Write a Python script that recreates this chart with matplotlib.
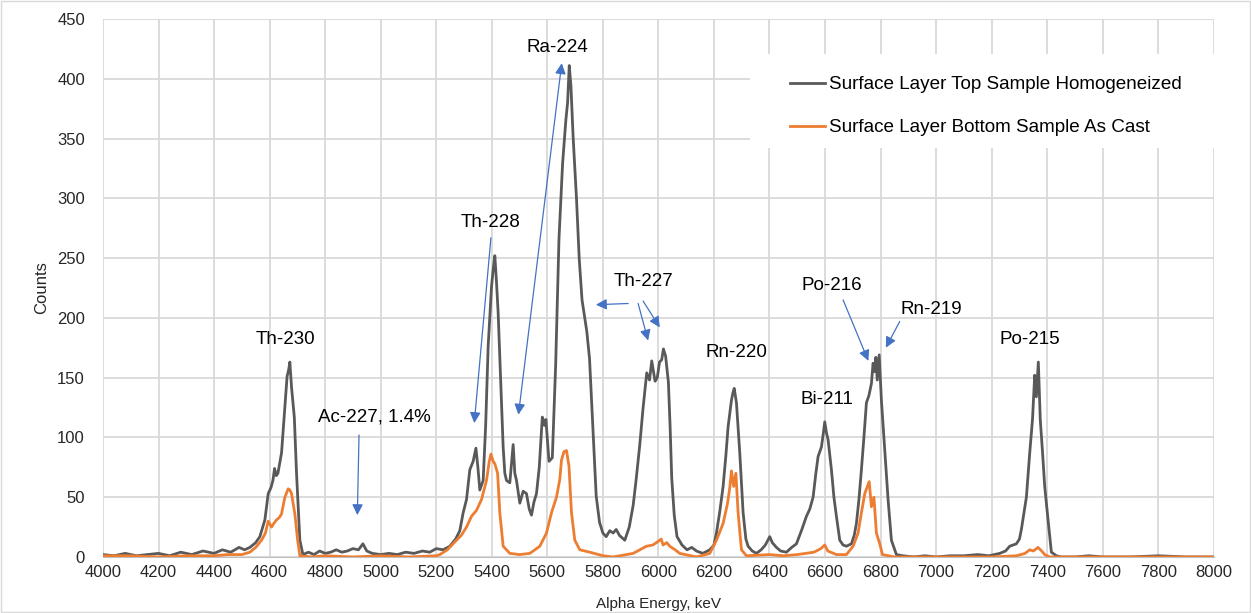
import matplotlib
matplotlib.use('Agg')
import matplotlib.pyplot as plt
from matplotlib.patches import Rectangle
import numpy as np

plt.rcParams['font.family'] = ['Liberation Sans', 'DejaVu Sans']

######################################################################
############################ Spectrum data ###########################
######################################################################

# Surface Layer Top Sample Homogeneized (keV, counts)
top_energy = [4000, 4040, 4080, 4120, 4160, 4200, 4240, 4280, 4320, 4360, 4400, 4430, 4460, 4490,
              4510, 4529, 4550, 4565, 4583, 4595, 4605, 4612, 4618, 4624, 4630, 4643, 4655, 4663,
              4669, 4673, 4679, 4689, 4697, 4709, 4720, 4740, 4760, 4780, 4800, 4820, 4840, 4860,
              4880, 4900, 4920, 4936, 4950, 4970, 5000, 5030, 5060, 5090, 5120, 5150, 5177, 5200,
              5225, 5249, 5270, 5285, 5297, 5309, 5321, 5333, 5343, 5350, 5357, 5369, 5378, 5387,
              5399, 5405, 5411, 5417, 5423, 5431, 5441, 5447, 5453, 5465, 5477, 5483, 5489, 5501,
              5513, 5525, 5535, 5543, 5552, 5561, 5571, 5582, 5590, 5595, 5606, 5618, 5630, 5642,
              5655, 5667, 5673, 5679, 5685, 5693, 5705, 5715, 5725, 5733, 5742, 5752, 5764, 5776,
              5788, 5800, 5812, 5825, 5837, 5848, 5860, 5879, 5895, 5909, 5920, 5933, 5945, 5958,
              5968, 5976, 5988, 5996, 6004, 6012, 6018, 6026, 6036, 6042, 6048, 6057, 6067, 6085,
              6103, 6120, 6137, 6160, 6185, 6200, 6209, 6221, 6233, 6243, 6251, 6263, 6268, 6273,
              6281, 6293, 6305, 6315, 6323, 6338, 6353, 6370, 6385, 6401, 6410, 6425, 6440, 6461,
              6480, 6497, 6515, 6533, 6545, 6557, 6567, 6575, 6587, 6593, 6599, 6605, 6611, 6623,
              6632, 6641, 6653, 6665, 6677, 6695, 6705, 6713, 6722, 6731, 6740, 6749, 6758, 6767,
              6773, 6779, 6783, 6788, 6795, 6803, 6815, 6827, 6839, 6857, 6880, 6920, 6960, 7000,
              7050, 7100, 7150, 7190, 7229, 7250, 7265, 7289, 7300, 7307, 7325, 7337, 7347, 7355,
              7361, 7368, 7375, 7383, 7391, 7403, 7415, 7433, 7450, 7500, 7550, 7600, 7700, 7800,
              7900, 8000]
top_counts = [2, 1, 3, 1, 2, 3, 1, 4, 2, 5, 3, 6, 4, 8,
              6, 8, 12, 17, 31, 53, 58, 64, 74, 68, 70, 87, 126, 151,
              157, 163, 142, 117, 70, 14, 2, 4, 2, 5, 3, 4, 6, 4,
              5, 7, 6, 11, 5, 3, 2, 3, 2, 4, 3, 5, 4, 7,
              6, 9, 15, 22, 37, 48, 73, 80, 91, 75, 56, 64, 110, 176,
              226, 240, 252, 230, 204, 154, 92, 70, 64, 62, 94, 70, 64, 45,
              55, 53, 40, 35, 46, 53, 75, 117, 110, 115, 80, 83, 160, 266,
              329, 366, 380, 411, 394, 351, 300, 249, 215, 203, 189, 166, 109, 51,
              29, 20, 17, 22, 20, 23, 18, 14, 25, 43, 65, 94, 125, 154,
              148, 164, 147, 150, 163, 165, 174, 168, 146, 110, 66, 35, 17, 10,
              6, 8, 5, 3, 6, 10, 20, 38, 59, 85, 109, 131, 137, 141,
              129, 87, 37, 15, 9, 5, 3, 6, 10, 17, 12, 8, 5, 4,
              8, 11, 22, 34, 40, 50, 70, 84, 92, 102, 113, 104, 98, 73,
              50, 34, 14, 10, 9, 11, 18, 28, 48, 73, 100, 129, 135, 145,
              162, 155, 167, 148, 169, 131, 89, 48, 14, 2, 1, 0, 1, 0,
              1, 1, 2, 1, 3, 5, 9, 11, 15, 23, 50, 87, 115, 152,
              134, 163, 115, 88, 59, 31, 4, 1, 0, 0, 1, 0, 0, 1,
              0, 0]

# Surface Layer Bottom Sample As Cast (keV, counts)
bottom_energy = [4000, 4100, 4200, 4300, 4400, 4450, 4500, 4529, 4550, 4571, 4585, 4595, 4607, 4615,
                 4625, 4635, 4643, 4655, 4667, 4673, 4679, 4691, 4701, 4709, 4750, 4800, 4900, 5000,
                 5100, 5200, 5213, 5240, 5273, 5290, 5309, 5327, 5345, 5363, 5381, 5391, 5397, 5405,
                 5411, 5421, 5429, 5441, 5465, 5500, 5537, 5573, 5597, 5615, 5633, 5645, 5651, 5660,
                 5669, 5678, 5687, 5699, 5717, 5753, 5801, 5837, 5909, 5957, 5980, 5999, 6010, 6017,
                 6030, 6041, 6060, 6077, 6137, 6185, 6209, 6233, 6249, 6257, 6263, 6271, 6279, 6287,
                 6299, 6317, 6400, 6450, 6500, 6560, 6585, 6599, 6610, 6641, 6677, 6701, 6719, 6731,
                 6743, 6759, 6767, 6776, 6785, 6797, 6807, 6850, 7000, 7200, 7289, 7320, 7337, 7350,
                 7367, 7380, 7391, 7409, 7600, 8000]
bottom_counts = [1, 1, 0, 1, 1, 2, 2, 4, 8, 14, 20, 30, 25, 28,
                 31, 33, 36, 50, 57, 56, 53, 36, 14, 1, 0, 1, 0, 1,
                 0, 1, 2, 6, 14, 18, 25, 34, 39, 48, 64, 80, 86, 80,
                 78, 70, 37, 9, 3, 2, 3, 9, 20, 37, 50, 65, 81, 88,
                 89, 76, 37, 14, 6, 4, 1, 0, 3, 9, 10, 13, 15, 10,
                 12, 9, 6, 3, 0, 3, 14, 28, 45, 58, 72, 59, 70, 37,
                 6, 1, 2, 1, 2, 4, 7, 10, 5, 2, 2, 9, 20, 37,
                 53, 63, 42, 50, 20, 11, 2, 0, 0, 0, 1, 3, 6, 5,
                 8, 5, 2, 0, 0, 0]

# peak labels: text, label centre (keV, counts)
labels = ['Th-230', 'Ac-227, 1.4%', 'Th-228', 'Ra-224', 'Th-227',
          'Rn-220', 'Bi-211', 'Po-216', 'Rn-219', 'Po-215']
label_xy = [(4657, 182), (4976, 117), (5397, 280), (5638, 426), (5945, 230),
            (6280, 171), (6607, 132), (6624, 227), (6981, 207), (7336, 182)]

# arrows: (tail keV, tail counts, head keV, head counts)
arrows = [(4922, 102, 4916, 35),
          (5397, 267, 5337, 112),
          (5891, 212, 5775, 211),
          (5927, 212, 5963, 181),
          (5945, 214, 6005, 192),
          (6665, 215, 6756, 164),
          (6869, 197, 6819, 175)]
ra_arrow = (5496, 119, 5652, 413)

######################################################################
################################ Plot ################################
######################################################################

fig = plt.figure(figsize=(12.51, 6.13), dpi=100)
ax = fig.add_axes([0.0823, 0.0914, 0.888, 0.8777])

ax.plot(top_energy, top_counts, color='#595959', linewidth=2.0,
        label='Surface Layer Top Sample Homogeneized', zorder=3)
ax.plot(bottom_energy, bottom_counts, color='#ED7D31', linewidth=2.0,
        label='Surface Layer Bottom Sample As Cast', zorder=4)

ax.set_xlim(4000, 8000)
ax.set_ylim(0, 450)
ax.set_xticks(np.arange(4000, 8001, 200))
ax.set_yticks(np.arange(0, 451, 50))
ax.set_axisbelow(True)
ax.grid(True, color='#d9d9d9', linewidth=1.3)

for s in ['top', 'right', 'left']:
    ax.spines[s].set_visible(False)
ax.spines['bottom'].set_color('#bfbfbf')
ax.tick_params(axis='both', length=0, labelsize=12, colors='#262626')
ax.tick_params(axis='y', pad=13)
ax.tick_params(axis='x', pad=6)

ax.set_xlabel('Alpha Energy, keV', fontsize=11, labelpad=12, color='#262626')
ax.set_ylabel('Counts', fontsize=12, labelpad=6, color='#262626')

# annotations
for txt, (ex, cy) in zip(labels, label_xy):
    ax.text(ex, cy, txt, ha='center', va='center', fontsize=13.5, color='black', zorder=5)

arrow_style = dict(arrowstyle='-|>', color='#4472C4', lw=0.9, mutation_scale=16,
                   shrinkA=0, shrinkB=0)
for x0, y0, x1, y1 in arrows:
    ax.annotate('', xy=(x1, y1), xytext=(x0, y0), arrowprops=arrow_style, zorder=5)

ax.annotate('', xy=(ra_arrow[0], ra_arrow[1]), xytext=(ra_arrow[2], ra_arrow[3]),
            arrowprops=dict(arrowstyle='<|-|>', color='#4472C4', lw=0.9, mutation_scale=16,
                            shrinkA=0, shrinkB=0), zorder=5)

# legend on white patch
ax.add_patch(Rectangle((0.5824, 0.76), 0.4176, 0.175, transform=ax.transAxes,
                       facecolor='white', edgecolor='none', zorder=1))
ax.legend(loc='upper left', bbox_to_anchor=(0.6184, 0.894), frameon=False,
          fontsize=13.6, handlelength=1.87, handletextpad=0.2, labelspacing=1.37,
          borderpad=0, borderaxespad=0)

fig.patches.append(Rectangle((0.0005, 0.001), 0.999, 0.998, transform=fig.transFigure,
                             fill=False, edgecolor='#d9d9d9', linewidth=1))

plt.savefig('out.png', dpi=100)
